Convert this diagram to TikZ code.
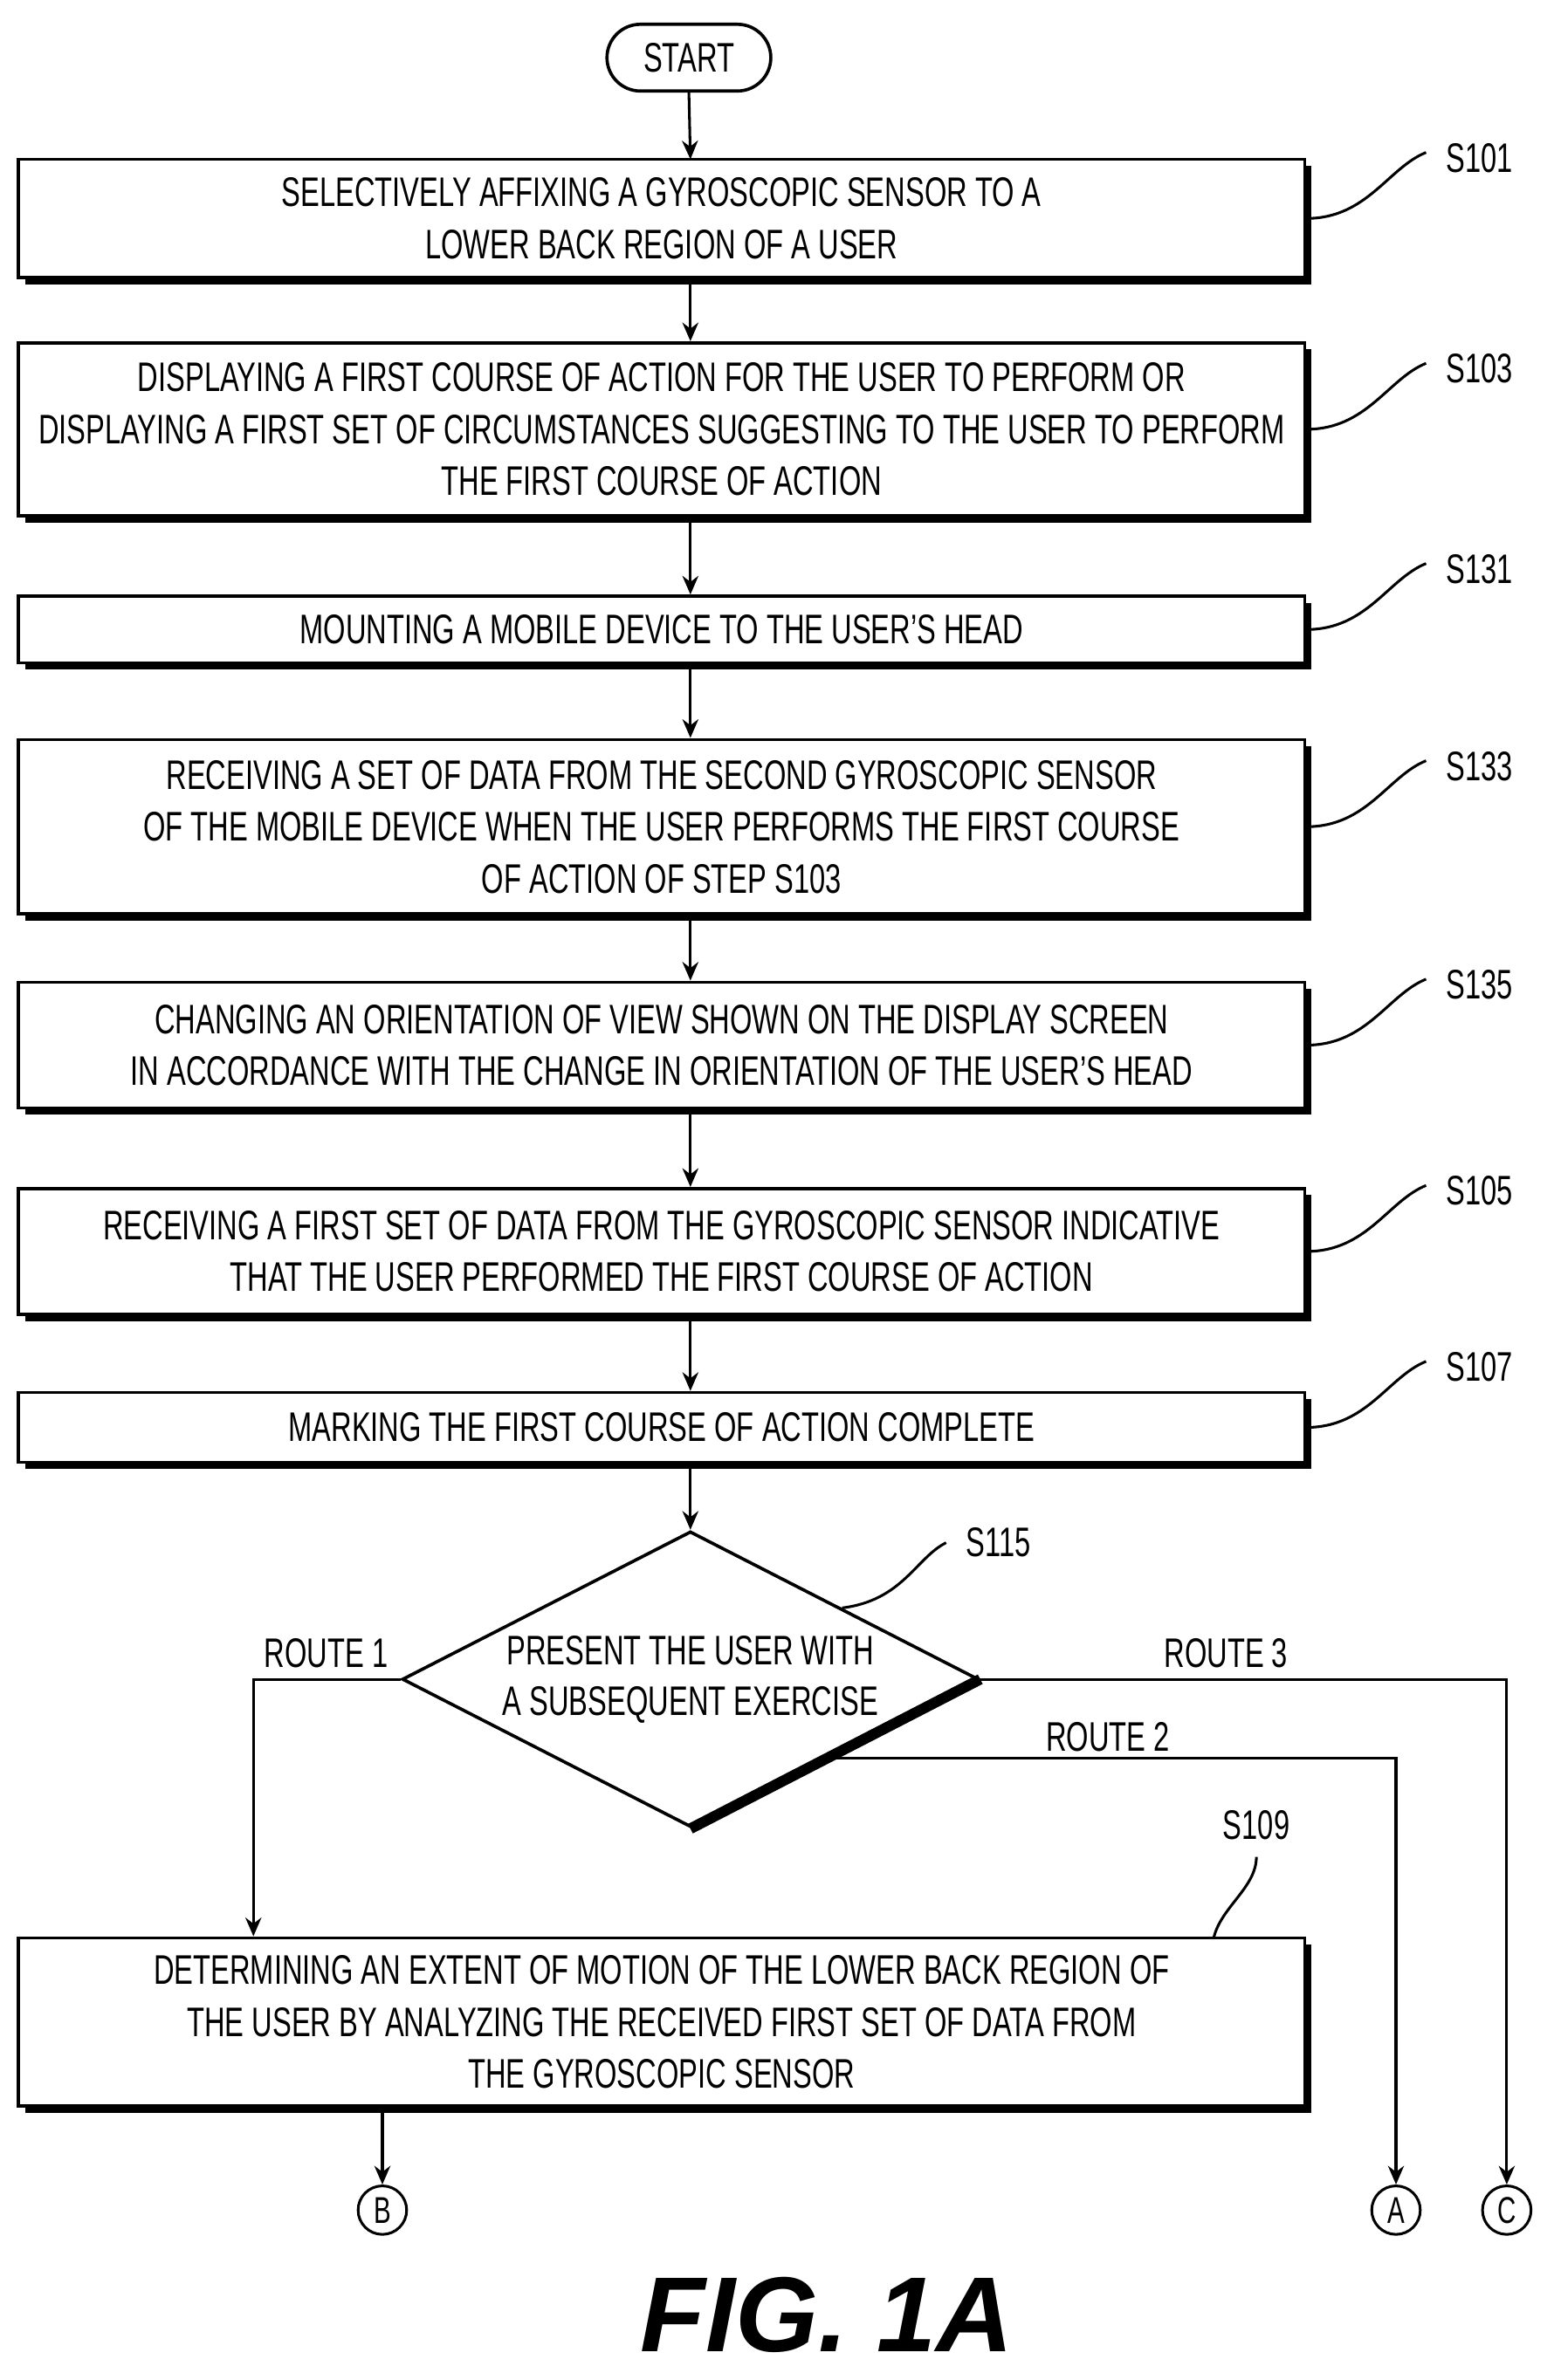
\documentclass[tikz,border=0pt]{standalone}
\usepackage{fontspec}
\setmainfont{Liberation Sans}[FakeStretch=0.69]
\newfontfamily\figfont{Liberation Sans}
\usetikzlibrary{shapes.geometric,shadows,calc,arrows.meta}
\tikzset{
  stepbox/.style={rectangle, draw, line width=1.2pt, minimum width=16.96cm, align=center,
    font=\fontsize{15.5}{19.5}\selectfont,
    drop shadow={shadow xshift=2.5pt, shadow yshift=-2.5pt, fill=black, opacity=1}, fill=white},
  lbl/.style={font=\fontsize{15.5}{19}\selectfont},
  flow/.style={-{Stealth[length=7pt,width=6pt]}, line width=1pt},
  lead/.style={line width=1pt},
  conn/.style={circle, draw, line width=1pt, minimum size=0.64cm, inner sep=0pt, font=\fontsize{14}{14}\selectfont}
}
\begin{document}
\begin{tikzpicture}[x=0.02cm,y=-0.02cm]
\useasboundingbox (0,0) rectangle (1024,1569);
% start
\node at (454,38) [draw, rounded corners=0.44cm, line width=1.2pt, minimum width=2.16cm, minimum height=0.88cm, lbl] (start) {START};
% steps
\node at (436,144) [stepbox, minimum height=1.56cm] (b101) {SELECTIVELY AFFIXING A GYROSCOPIC SENSOR TO A\\LOWER BACK REGION OF A USER};
\node at (436,283) [stepbox, minimum height=2.28cm] (b103) {DISPLAYING A FIRST COURSE OF ACTION FOR THE USER TO PERFORM OR\\DISPLAYING A FIRST SET OF CIRCUMSTANCES SUGGESTING TO THE USER TO PERFORM\\THE FIRST COURSE OF ACTION};
\node at (436,415) [stepbox, minimum height=0.88cm] (b131) {MOUNTING A MOBILE DEVICE TO THE USER'S HEAD};
\node at (436,545) [stepbox, minimum height=2.3cm] (b133) {RECEIVING A SET OF DATA FROM THE SECOND GYROSCOPIC SENSOR\\OF THE MOBILE DEVICE WHEN THE USER PERFORMS THE FIRST COURSE\\OF ACTION OF STEP S103};
\node at (436,689) [stepbox, minimum height=1.66cm] (b135) {CHANGING AN ORIENTATION OF VIEW SHOWN ON THE DISPLAY SCREEN\\IN ACCORDANCE WITH THE CHANGE IN ORIENTATION OF THE USER'S HEAD};
\node at (436,825) [stepbox, minimum height=1.66cm] (b105) {RECEIVING A FIRST SET OF DATA FROM THE GYROSCOPIC SENSOR INDICATIVE\\THAT THE USER PERFORMED THE FIRST COURSE OF ACTION};
\node at (436,941) [stepbox, minimum height=0.92cm] (b107) {MARKING THE FIRST COURSE OF ACTION COMPLETE};
\node at (455,1107) [diamond, draw, line width=1.2pt, minimum width=7.6cm, minimum height=3.9cm, aspect=1.95, inner sep=0pt, align=center, lbl] (dia) {PRESENT THE USER WITH\\A SUBSEQUENT EXERCISE};
\draw[line width=4pt] (dia.east) -- (dia.south);
\node at (436,1333) [stepbox, minimum height=2.22cm] (b109) {DETERMINING AN EXTENT OF MOTION OF THE LOWER BACK REGION OF\\THE USER BY ANALYZING THE RECEIVED FIRST SET OF DATA FROM\\THE GYROSCOPIC SENSOR};
% connectors
\node at (252,1457) [conn] (cB) {B};
\node at (920,1457) [conn] (cA) {A};
\node at (993,1457) [conn] (cC) {C};
% arrows
\draw[flow] (start.south) -- (455,105);
\foreach \a/\b in {b101/b103,b103/b131,b131/b133,b133/b135,b135/b105,b105/b107} {
  \draw[flow] (455,0 |- \a.south) -- (455,0 |- \b.north);
}
\draw[flow] (455,0 |- b107.south) -- (dia.north);
\draw[flow] (dia.west) -| (167,0 |- b109.north);
\draw[flow] (dia.east) -| (cC.north);
\coordinate (r2) at ($(dia.east)!0.53!(dia.south)$);
\draw[flow] (r2) -| (cA.north);
\draw[flow] (252,0 |- b109.south) -- (cB.north);
\node at (215,1090) [lbl] (t1) {ROUTE 1};
\node at (730,1145) [lbl] (t2) {ROUTE 2};
\node at (808,1090) [lbl] (t3) {ROUTE 3};
% step labels
\foreach \n/\y in {101/144,103/283,131/415,133/545,135/689,105/825,107/941} {
  \node at (975,\y-40) [lbl] (l\n) {S\n};
  \draw[lead] (b\n.east) .. controls +(40,0) and +(-25,10) .. ([xshift=-4pt,yshift=2pt]l\n.west);
}
\node at (658,1017) [lbl] (l115) {S115};
\draw[lead] (555,1060) .. controls +(40,-5) and +(-20,10) .. ([xshift=-4pt]l115.west);
\node at (828,1203) [lbl] (l109) {S109};
\draw[lead] (800,1277) .. controls +(5,-20) and +(0,20) .. ([yshift=-3pt]l109.south);
\node at (545,1526) [font=\figfont\bfseries\itshape\fontsize{40}{40}\selectfont] (fig) {FIG. 1A};
\end{tikzpicture}
\end{document}
